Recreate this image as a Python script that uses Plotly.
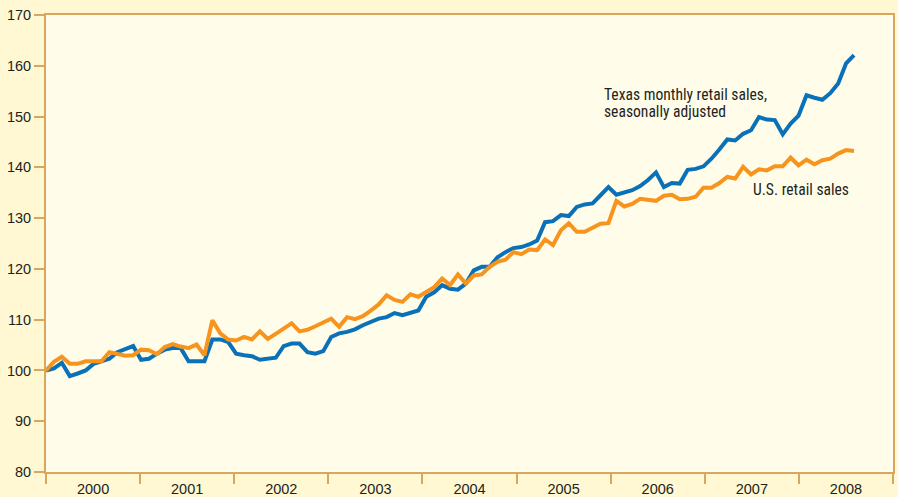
import numpy as np
import plotly.graph_objects as go

# Monthly index values (base = 100)
texas = [
    100.0, 100.4, 101.5, 98.9, 99.4, 100.0, 101.3, 101.7, 102.3, 103.6, 104.3, 104.8,
    102.1, 102.3, 103.3, 104.1, 104.4, 104.4, 101.8, 101.9, 101.8, 106.1, 106.1, 105.6,
    103.3, 103.0, 102.8, 102.1, 102.3, 102.5, 104.8, 105.3, 105.3, 103.6, 103.3, 103.8,
    106.6, 107.3, 107.6, 108.1, 108.9, 109.5, 110.2, 110.5, 111.3, 110.9, 111.3, 111.8,
    114.5, 115.4, 116.8, 116.1, 115.9, 117.1, 119.7, 120.4, 120.4, 122.3, 123.3, 124.1,
    124.3, 124.8, 125.6, 129.2, 129.4, 130.6, 130.4, 132.2, 132.7, 132.9, 134.5, 136.1,
    134.6, 135.1, 135.5, 136.3, 137.5, 139.0, 136.1, 136.9, 136.8, 139.5, 139.7, 140.2,
    141.7, 143.5, 145.5, 145.3, 146.6, 147.3, 149.9, 149.4, 149.3, 146.5, 148.6, 150.2,
    154.2, 153.7, 153.3, 154.6, 156.5, 160.5, 162.1,
]
us = [
    100.0, 101.7, 102.7, 101.3, 101.3, 101.8, 101.8, 101.8, 103.6, 103.3, 102.9, 103.0,
    104.1, 104.0, 103.2, 104.6, 105.2, 104.7, 104.4, 105.1, 103.0, 109.9, 107.3, 106.1,
    105.9, 106.6, 106.1, 107.7, 106.2, 107.2, 108.3, 109.3, 107.7, 108.0, 108.7, 109.5,
    110.2, 108.6, 110.5, 110.1, 110.7, 111.8, 113.0, 114.8, 113.9, 113.5, 115.0, 114.5,
    115.5, 116.4, 118.1, 116.8, 118.9, 117.1, 118.7, 118.9, 120.4, 121.4, 121.8, 123.3,
    122.9, 123.8, 123.7, 125.8, 124.7, 127.6, 129.0, 127.3, 127.3, 128.0, 128.9, 129.0,
    133.4, 132.3, 132.8, 133.8, 133.5, 133.4, 134.4, 134.6, 133.7, 133.8, 134.2, 136.0,
    136.0, 136.9, 138.1, 137.8, 140.1, 138.6, 139.6, 139.4, 140.2, 140.2, 141.9, 140.4,
    141.5, 140.6, 141.4, 141.7, 142.7, 143.4, 143.2,
]
years = [2000, 2001, 2002, 2003, 2004, 2005, 2006, 2007, 2008]
year_labels = [str(y) for y in years]
y_ticks = [80, 90, 100, 110, 120, 130, 140, 150, 160, 170]

STEP = 1 / 11.88  # spacing of observations on the year axis
x = 2000 + np.arange(len(texas)) * STEP

TAN = "#D8A65C"
BLUE = "#0A71B9"
ORANGE = "#F7941E"
TEXT = "#231F20"
FONT = "Liberation Sans Narrow, Arial Narrow, Roboto Condensed, Liberation Sans, Arial, sans-serif"

fig = go.Figure()
fig.add_trace(go.Scatter(x=x, y=texas, mode="lines",
                         line=dict(color=BLUE, width=4), name="Texas"))
fig.add_trace(go.Scatter(x=x, y=us, mode="lines",
                         line=dict(color=ORANGE, width=4), name="U.S."))

fig.add_annotation(x=2005.91, y=154.3, text="Texas monthly retail sales,",
                   showarrow=False, xanchor="left", yanchor="middle",
                   font=dict(family=FONT, size=15.6, color=TEXT))
fig.add_annotation(x=2005.91, y=150.9, text="seasonally adjusted",
                   showarrow=False, xanchor="left", yanchor="middle",
                   font=dict(family=FONT, size=15.6, color=TEXT))
fig.add_annotation(x=2007.49, y=135.6, text="U.S. retail sales",
                   showarrow=False, xanchor="left", yanchor="middle",
                   font=dict(family=FONT, size=15.6, color=TEXT))

fig.update_layout(
    width=898, height=497,
    margin=dict(l=46, r=5, t=15, b=25),
    paper_bgcolor="#FFF8D3",
    plot_bgcolor="#FFFDEA",
    showlegend=False,
    font=dict(family="Liberation Sans, Arial, sans-serif", size=14, color=TEXT),
)
fig.update_xaxes(
    range=[2000, 2009], automargin=False,
    tickvals=[y + 0.5 for y in years], ticktext=year_labels,
    ticks="outside", ticklen=3, tickcolor="rgba(0,0,0,0)",
    minor=dict(tick0=2000, dtick=1, ticks="outside", ticklen=10, tickwidth=2, tickcolor=TAN, showgrid=False),
    showline=True, linecolor=TAN, linewidth=2, mirror=True,
    showgrid=False, zeroline=False,
    tickfont=dict(size=14.5, color=TEXT),
)
fig.update_yaxes(
    range=[80, 170], automargin=False, tickvals=y_ticks,
    ticks="outside", ticklen=10, tickwidth=2, tickcolor=TAN,
    showline=True, linecolor=TAN, linewidth=2, mirror=True,
    showgrid=False, zeroline=False,
    tickfont=dict(size=14.5, color=TEXT),
)

fig.write_html(
    "out.html",
    config={"displayModeBar": False},
    post_script="document.body.style.margin='0';document.body.style.overflow='hidden';",
)
